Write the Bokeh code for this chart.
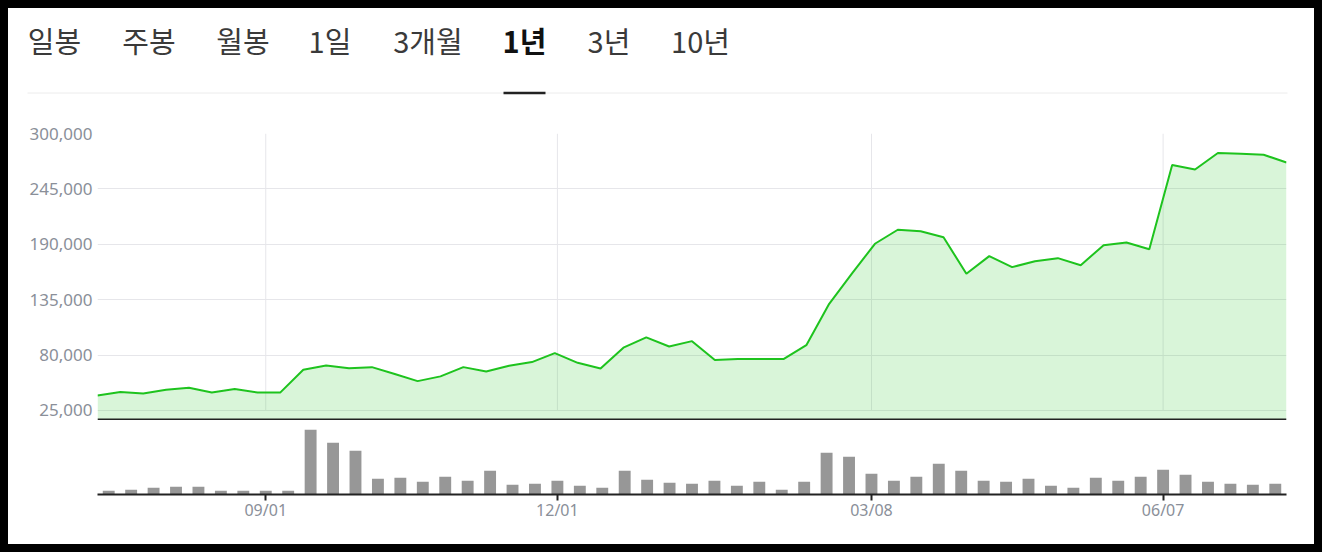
import numpy as np
from bokeh.plotting import figure
from bokeh.layouts import column
from bokeh.models import Range1d, FixedTicker, NumeralTickFormatter, Span
from bokeh.core.properties import value
from bokeh.embed import file_html
from bokeh.resources import INLINE

# ---------------- data ----------------
tabs = ["일봉", "주봉", "월봉", "1일", "3개월", "1년", "3년", "10년"]
selected_tab = "1년"

# weekly closing prices (one year, 53 weeks)
prices = [39900, 43200, 41900, 45500, 47500, 42900, 46200, 42900, 42900, 65400,
          69700, 67000, 68000, 61200, 54100, 58800, 68000, 63700, 69300, 73000,
          81900, 72300, 66700, 87300, 97500, 88500, 93800, 75000, 76000, 76000,
          76000, 89800, 130900, 161000, 190500, 204400, 203000, 197000, 160700, 178200,
          167300, 173200, 176200, 169200, 189100, 191800, 185100, 268700, 264300, 280600,
          279900, 278900, 271200]

# weekly traded volume (thousand shares)
volumes = [37, 47, 67, 77, 77, 37, 37, 37, 37, 647,
           517, 437, 157, 167, 127, 177, 137, 237, 97, 107,
           137, 87, 67, 237, 147, 117, 107, 137, 87, 127,
           47, 127, 417, 377, 207, 137, 177, 307, 237, 137,
           127, 157, 87, 67, 167, 137, 177, 247, 197, 127,
           107, 97, 107]

tick_weeks = [7, 20, 34, 47]
tick_labels = ["09/01", "12/01", "03/08", "06/07"]
y_ticks = [25000, 80000, 135000, 190000, 245000, 300000]

# ---------------- styling ----------------
W = 1306
LEFT, RIGHT = 89, 28
GREEN = "#1ec31e"
GRID = "#e6e6ea"
LABEL = "#8a8f99"
n = len(prices)
xr = Range1d(-0.5, n - 0.5)

# ---------------- header (tabs) ----------------
HEADER_H = 110
h = figure(width=W, height=HEADER_H, x_range=Range1d(0, W), y_range=Range1d(HEADER_H, 0),
           output_backend="svg", toolbar_location=None,
           min_border_left=0, min_border_right=0, min_border_top=0, min_border_bottom=0)
h.frame_align = False
h.axis.visible = False
h.grid.visible = False
h.outline_line_color = None
h.background_fill_color = "white"
h.border_fill_color = "white"

tab_x = [46, 140.5, 234.5, 321.5, 419.5, 516, 600.5, 692]
tab_y = 31
sel = tabs.index(selected_tab)
other_x = [x for i, x in enumerate(tab_x) if i != sel]
other_t = [t for i, t in enumerate(tabs) if i != sel]
h.text(x=other_x, y=[tab_y] * len(other_x), text=other_t,
       text_font=value("Noto Sans CJK KR"), text_font_size="29px",
       text_align="center", text_baseline="middle", text_color="#3a3a3a")
h.text(x=[tab_x[sel]], y=[tab_y], text=[tabs[sel]],
       text_font=value("Noto Sans CJK KR"), text_font_size="29px", text_font_style="bold",
       text_align="center", text_baseline="middle", text_color="#111111")
h.segment(x0=[19], y0=[84.5], x1=[1279], y1=[84.5], line_color="#ececec", line_width=1)
h.segment(x0=[tab_x[sel] - 21], y0=[84.5], x1=[tab_x[sel] + 21], y1=[84.5],
          line_color="#222222", line_width=2.5)

# ---------------- price chart ----------------
PRICE_H = 302
y_start = 15000
p = figure(width=W, height=PRICE_H, x_range=xr, y_range=Range1d(y_start, 300000),
           output_backend="svg", toolbar_location=None,
           min_border_left=LEFT, min_border_right=RIGHT, min_border_top=15, min_border_bottom=0)
p.outline_line_color = None
p.xaxis.visible = False
p.xgrid.visible = False
p.ygrid.ticker = FixedTicker(ticks=y_ticks)
p.ygrid.grid_line_color = GRID
p.yaxis.ticker = FixedTicker(ticks=y_ticks)
p.yaxis.formatter = NumeralTickFormatter(format="0,0")
p.yaxis.axis_line_color = None
p.yaxis.major_tick_line_color = None
p.yaxis.minor_tick_line_color = None
p.yaxis.major_tick_out = 0
p.yaxis.major_tick_in = 0
p.yaxis.major_label_standoff = 5
p.yaxis.major_label_text_font = "Noto Sans"
p.yaxis.major_label_text_font_size = "17px"
p.yaxis.major_label_text_color = LABEL

# line is laid out as a point scale across the full width
x_line = np.linspace(-0.5, n - 0.5, n)
p.segment(x0=tick_weeks, x1=tick_weeks, y0=[y_ticks[0]] * len(tick_weeks),
          y1=[y_ticks[-1]] * len(tick_weeks), line_color=GRID, line_width=1)
p.varea(x=x_line, y1=[y_start] * n, y2=prices, fill_color=GREEN, fill_alpha=0.17)
p.line(x_line, prices, line_color=GREEN, line_width=2)
p.add_layout(Span(location=y_start, dimension="width", line_color="#222222", line_width=4))

# ---------------- volume chart ----------------
VOL_H = 124
v = figure(width=W, height=VOL_H, x_range=xr, y_range=Range1d(0, 730),
           output_backend="svg", toolbar_location=None,
           min_border_left=LEFT, min_border_right=RIGHT, min_border_top=1, min_border_bottom=50)
v.outline_line_color = None
v.grid.visible = False
v.yaxis.visible = False
v.vbar(x=list(range(n)), top=volumes, width=0.53, fill_color="#979797", line_color=None)
v.xaxis.ticker = FixedTicker(ticks=tick_weeks)
v.xaxis.major_label_overrides = {k: lab for k, lab in zip(tick_weeks, tick_labels)}
v.xaxis.axis_line_color = "#222222"
v.xaxis.axis_line_width = 2
v.xaxis.major_tick_line_color = "#222222"
v.xaxis.major_tick_line_width = 2
v.xaxis.major_tick_out = 6
v.xaxis.major_tick_in = 0
v.xaxis.minor_tick_line_color = None
v.xaxis.major_label_standoff = -2
v.xaxis.major_label_text_font = "Noto Sans"
v.xaxis.major_label_text_font_size = "16px"
v.xaxis.major_label_text_color = LABEL

layout = column(h, p, v, spacing=0, styles={"background-color": "white"})

html = file_html(layout, INLINE)
html = html.replace(
    "</head>",
    "<style>html,body{height:auto !important;} body{margin:8px !important;background:#000000;}</style></head>",
    1)
open("out.html", "w").write(html)
